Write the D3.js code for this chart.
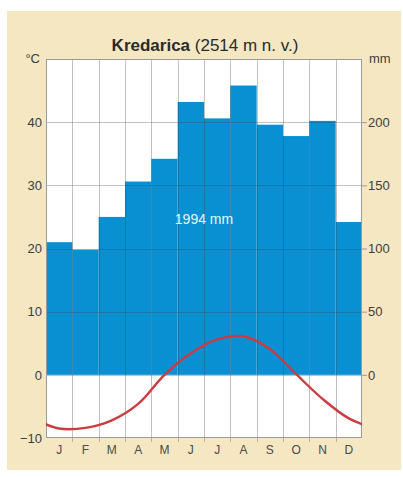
<!DOCTYPE html>
<html>
<head>
<meta charset="utf-8">
<script src="https://cdn.jsdelivr.net/npm/d3@7"></script>
<style>
  body { margin: 0; background: #fff; }
  svg { display: block; font-family: "Liberation Sans", Arial, sans-serif; }
</style>
</head>
<body>
<div id="chart"></div>
<script>
// Kredarica climate chart data
const months = ["J", "F", "M", "A", "M", "J", "J", "A", "S", "O", "N", "D"];
const precipitation = [105, 99, 125, 153, 171, 216, 203, 229, 198, 189, 201, 121]; // mm
const temperature = [-8.5, -8.4, -7.2, -4.6, 0.0, 3.4, 5.6, 6.1, 4.1, 0.1, -3.8, -6.9]; // °C
const tempTicks = [-10, 0, 10, 20, 30, 40];
const precTicks = [0, 50, 100, 150, 200];
const totalLabel = "1994 mm";

const width = 403, height = 477;
const plot = { left: 46, right: 362, top: 59, bottom: 438 };

const svg = d3.select("#chart").append("svg")
  .attr("width", width)
  .attr("height", height);

// beige panel
svg.append("rect")
  .attr("x", 7).attr("y", 11)
  .attr("width", 394).attr("height", 459)
  .attr("fill", "#f4e7c2");

const x = d3.scaleBand().domain(d3.range(12)).range([plot.left, plot.right]).padding(0);
const xl = d3.scaleLinear().domain([0, 12]).range([plot.left, plot.right]);
const yT = d3.scaleLinear().domain([-10, 50]).range([plot.bottom, plot.top]);
const yP = d3.scaleLinear().domain([-50, 250]).range([plot.bottom, plot.top]);

// plot background
svg.append("rect")
  .attr("x", plot.left).attr("y", plot.top)
  .attr("width", plot.right - plot.left).attr("height", plot.bottom - plot.top)
  .attr("fill", "#fff");

// precipitation bars
svg.append("g").selectAll("rect")
  .data(precipitation)
  .join("rect")
  .attr("x", (d, i) => x(i))
  .attr("width", x.bandwidth())
  .attr("y", (d) => yP(d))
  .attr("height", (d) => yP(0) - yP(d))
  .attr("fill", "#0890d2");

// grid (on top of bars)
const grid = svg.append("g").attr("stroke", "rgba(70,70,70,0.33)").attr("stroke-width", 1);
grid.selectAll(".h")
  .data(d3.range(0, 50, 10))
  .join("line")
  .attr("x1", plot.left).attr("x2", plot.right)
  .attr("y1", (d) => Math.round(yT(d)) + 0.5)
  .attr("y2", (d) => Math.round(yT(d)) + 0.5);
grid.selectAll(".v")
  .data(d3.range(1, 12))
  .join("line")
  .attr("x1", (d) => Math.round(xl(d)) + 0.5)
  .attr("x2", (d) => Math.round(xl(d)) + 0.5)
  .attr("y1", plot.top).attr("y2", plot.bottom + 4);

// border
svg.append("rect")
  .attr("x", plot.left + 0.5).attr("y", plot.top + 0.5)
  .attr("width", plot.right - plot.left - 1).attr("height", plot.bottom - plot.top - 1)
  .attr("fill", "none")
  .attr("stroke", "#9a9a9a");

// temperature curve, wrapped around the year and clipped to the plot
svg.append("clipPath").attr("id", "clip")
  .append("rect")
  .attr("x", plot.left).attr("y", plot.top)
  .attr("width", plot.right - plot.left).attr("height", plot.bottom - plot.top);

const tempPts = [[-1, temperature[11]]]
  .concat(temperature.map((t, i) => [i, t]))
  .concat([[12, temperature[0]]]);

const line = d3.line()
  .x((d) => xl(d[0] + 0.5))
  .y((d) => yT(d[1]))
  .curve(d3.curveCatmullRom.alpha(0.5));

svg.append("path")
  .datum(tempPts)
  .attr("clip-path", "url(#clip)")
  .attr("d", line)
  .attr("fill", "none")
  .attr("stroke", "#cc3b3f")
  .attr("stroke-width", 2.4);

// axes
const axisColor = "#3d3d3d";

const left = svg.append("g")
  .attr("transform", `translate(${plot.left - 4},0)`)
  .call(d3.axisLeft(yT).tickValues(tempTicks).tickSize(0).tickPadding(0));
left.select(".domain").remove();

const right = svg.append("g")
  .attr("transform", `translate(${plot.right},0)`)
  .call(d3.axisRight(yP).tickValues(precTicks).tickSize(5).tickPadding(1));
right.select(".domain").remove();
right.selectAll("line").attr("stroke", "#9a9a9a");

const bottom = svg.append("g")
  .attr("transform", `translate(0,${plot.bottom})`)
  .call(d3.axisBottom(x).tickSize(0).tickPadding(7).tickFormat((i) => months[i]));
bottom.select(".domain").remove();

svg.selectAll(".tick text")
  .attr("fill", axisColor)
  .style("font-size", "13px");
bottom.selectAll("text").attr("fill", "#4a4a4a").style("font-size", "12px");

// unit labels
svg.append("text")
  .attr("x", 40).attr("y", 63)
  .attr("text-anchor", "end")
  .attr("fill", axisColor)
  .style("font-size", "13px")
  .text("°C");
svg.append("text")
  .attr("x", 369).attr("y", 63)
  .attr("fill", axisColor)
  .style("font-size", "13px")
  .text("mm");

// title
const title = svg.append("text")
  .attr("x", 205).attr("y", 51)
  .attr("text-anchor", "middle")
  .attr("fill", "#2b2b2b")
  .style("font-size", "17px");
title.append("tspan").attr("font-weight", "bold").text("Kredarica");
title.append("tspan").text(" (2514 m n. v.)");

// annual total
svg.append("text")
  .attr("x", 204).attr("y", 224)
  .attr("text-anchor", "middle")
  .attr("fill", "#eaf6ff")
  .style("font-size", "14px")
  .text(totalLabel);
</script>
</body>
</html>
